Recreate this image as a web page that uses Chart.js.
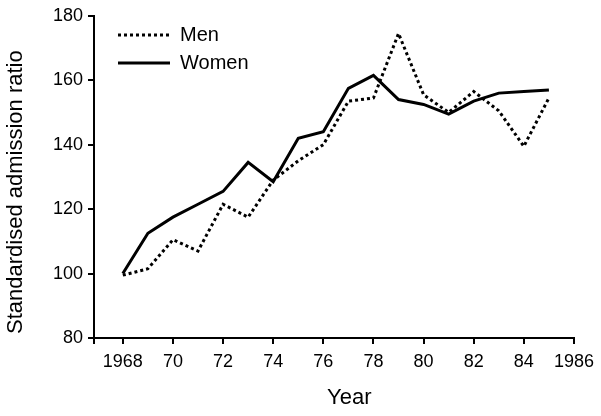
<!DOCTYPE html>
<html>
<head>
<meta charset="utf-8">
<script src="https://cdn.jsdelivr.net/npm/chart.js@4/dist/chart.umd.min.js"></script>
<style>
  html, body { margin: 0; padding: 0; background: #fff; }
  #wrap { width: 601px; height: 416px; }
</style>
</head>
<body>
<div id="wrap"><canvas id="graph"></canvas></div>
<script>
var years = [1968, 1969, 1970, 1971, 1972, 1973, 1974, 1975, 1976, 1977, 1978, 1979, 1980, 1981, 1982, 1983, 1984, 1985];
var men = [99.5, 101.5, 110.5, 107, 121.5, 117.5, 129, 135, 140, 153.5, 154.5, 174.5, 155.5, 150, 156.5, 150.5, 139.5, 154.5];
var women = [100, 112.5, 117.5, 121.5, 125.5, 134.5, 128.5, 142, 144, 157.5, 161.5, 154, 152.5, 149.5, 153.5, 156, 156.5, 157];
var xTicks = [1968, 1970, 1972, 1974, 1976, 1978, 1980, 1982, 1984, 1986];
var xTickLabels = ['1968', '70', '72', '74', '76', '78', '80', '82', '84', '1986'];
var yTicks = [80, 100, 120, 140, 160, 180];

var FONT = "'Liberation Sans', Arial, sans-serif";
var X_MIN = 1966.85;

function points(vals) {
    return years.map(function (y, i) { return { x: y, y: vals[i] }; });
}

// nudge the legend into the plot corner
var legendShift = {
    id: 'legendShift',
    afterLayout: function (chart) {
        chart.legend.left += 16;
        chart.legend.top += 17;
    }
};

var config = {
    type: 'line',
    data: {
        datasets: [{
            label: 'Men',
            data: points(men),
            borderColor: '#000',
            borderWidth: 3,
            borderDash: [3, 3],
            pointRadius: 0,
            tension: 0
        }, {
            label: 'Women',
            data: points(women),
            borderColor: '#000',
            borderWidth: 3,
            pointRadius: 0,
            tension: 0
        }]
    },
    options: {
        responsive: true,
        maintainAspectRatio: false,
        animation: false,
        layout: { padding: { top: 10, right: 21, left: 0, bottom: 0 } },
        plugins: {
            tooltip: { enabled: false },
            legend: {
                position: 'chartArea',
                align: 'start',
                labels: {
                    usePointStyle: true,
                    pointStyleWidth: 52,
                    padding: 8,
                    color: '#000',
                    font: { family: FONT, size: 20 },
                    generateLabels: function (chart) {
                        return chart.data.datasets.map(function (ds, i) {
                            return {
                                text: ds.label,
                                fillStyle: '#000',
                                strokeStyle: '#000',
                                fontColor: '#000',
                                lineWidth: 3,
                                lineDash: ds.borderDash || [],
                                pointStyle: 'line',
                                datasetIndex: i
                            };
                        });
                    }
                }
            }
        },
        scales: {
            x: {
                type: 'linear',
                min: X_MIN,
                max: 1986,
                afterFit: function (scale) { scale.height = 78; },
                afterBuildTicks: function (scale) {
                    scale.ticks = [{ value: X_MIN }].concat(xTicks.map(function (v) { return { value: v }; }));
                },
                ticks: {
                    autoSkip: false,
                    maxRotation: 0,
                    padding: 7,
                    color: '#000',
                    font: { family: FONT, size: 18 },
                    callback: function (value) {
                        var i = xTicks.indexOf(value);
                        return i < 0 ? '' : xTickLabels[i];
                    }
                },
                grid: {
                    drawOnChartArea: false,
                    drawTicks: true,
                    tickLength: 6,
                    color: '#000',
                    lineWidth: 2
                },
                border: { display: true, color: '#000', width: 2 },
                title: {
                    display: true,
                    text: '     Year',
                    color: '#000',
                    font: { family: FONT, size: 22 },
                    padding: { top: 0, bottom: 5 }
                }
            },
            y: {
                min: 80,
                max: 180,
                afterFit: function (scale) { scale.width = 94; },
                afterBuildTicks: function (scale) {
                    scale.ticks = yTicks.map(function (v) { return { value: v }; });
                },
                ticks: {
                    padding: 5,
                    color: '#000',
                    font: { family: FONT, size: 18 }
                },
                grid: {
                    drawOnChartArea: false,
                    drawTicks: true,
                    tickLength: 6,
                    color: '#000',
                    lineWidth: 2
                },
                border: { display: true, color: '#000', width: 2 },
                title: {
                    display: true,
                    text: 'Standardised admission ratio     ',
                    color: '#000',
                    font: { family: FONT, size: 22 },
                    padding: { top: 3, bottom: 0 }
                }
            }
        }
    },
    plugins: [legendShift]
};

document.addEventListener("DOMContentLoaded", function () {
    var ctx = document.getElementById('graph').getContext('2d');
    var admissionChart = new Chart(ctx, config);
});
</script>
</body>
</html>
